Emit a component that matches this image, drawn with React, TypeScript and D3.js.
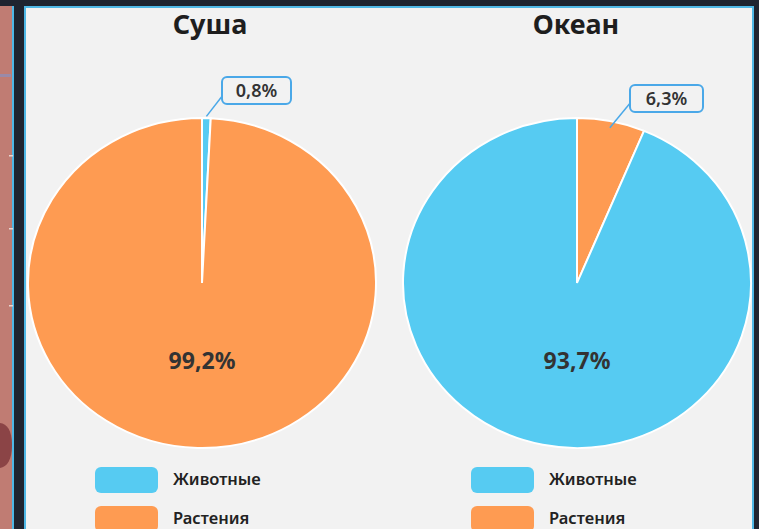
import React from "react";
import * as d3 from "d3";

const titles = ["Суша", "Океан"];
const landCategories = ["Животные", "Растения"];
const landValues = [0.8, 99.2];
const oceanCategories = ["Растения", "Животные"];
const oceanValues = [6.3, 93.7];
const legendCategories = ["Животные", "Растения"];
const bigLabels = ["99,2%", "93,7%"];
const smallLabels = ["0,8%", "6,3%"];

const colorOf: Record<string, string> = { "Животные": "#56cbf2", "Растения": "#fe9b52" };

const W = 759, H = 529;
const R = 174, RY = 165;
const FONT = "'Noto Sans', 'Open Sans', sans-serif";

type PieSpec = {
  cx: number; cy: number; title: string; titleX: number;
  cats: string[]; vals: number[]; big: string; small: string;
  lineK: number; lineEnd: [number, number]; boxW: number; boxTop: number; legendX: number;
};

const charts: PieSpec[] = [
  { cx: 202, cy: 283, title: titles[0], titleX: 210, cats: landCategories, vals: landValues,
    big: bigLabels[0], small: smallLabels[0], lineK: 1.01, lineEnd: [223, 95], boxW: 69, boxTop: 77, legendX: 95 },
  { cx: 577, cy: 283, title: titles[1], titleX: 576, cats: oceanCategories, vals: oceanValues,
    big: bigLabels[1], small: smallLabels[1], lineK: 0.96, lineEnd: [631, 102], boxW: 73, boxTop: 85, legendX: 471 },
];

function Pie({ s }: { s: PieSpec }) {
  const data = s.cats.map((c, i) => ({ c, v: s.vals[i] }));
  const arcs = d3.pie<{ c: string; v: number }>().sort(null).value(d => d.v).startAngle(0)(data);
  const arcGen = d3.arc<d3.PieArcDatum<{ c: string; v: number }>>().innerRadius(0).outerRadius(R);
  const smallArc = arcs.reduce((a, b) => (a.value < b.value ? a : b));
  const mid = (smallArc.startAngle + smallArc.endAngle) / 2;
  const sx = s.cx + Math.sin(mid) * R * s.lineK;
  const sy = s.cy - Math.cos(mid) * RY * s.lineK;
  const sy2 = s.cy + 77;
  return (
    <g>
      <text x={s.titleX} y={34} textAnchor="middle" fontFamily={FONT} fontWeight={700} fontSize={27} fill="#1e1e1e">{s.title}</text>
      <g transform={`translate(${s.cx},${s.cy}) scale(1,${RY / R})`}>
        {arcs.map((a, i) => (
          <path key={i} d={arcGen(a) || ""} fill={colorOf[a.data.c]} stroke="#ffffff" strokeWidth={2} />
        ))}
      </g>
      <text x={s.cx} y={sy2 + 9} textAnchor="middle" fontFamily={FONT} fontWeight={700} fontSize={23} fill="#333333">{s.big}</text>
      <line x1={sx} y1={sy} x2={s.lineEnd[0]} y2={s.lineEnd[1]} stroke="#4aa8e8" strokeWidth={1.5} />
      <rect x={s.lineEnd[0] - 1} y={s.boxTop} width={s.boxW} height={27} rx={5} fill="#f2f2f2" stroke="#4aa8e8" strokeWidth={2} />
      <text x={s.lineEnd[0] - 1 + s.boxW / 2} y={s.boxTop + 20} textAnchor="middle" fontFamily={FONT} fontWeight={600} fontSize={18} fill="#333333">{s.small}</text>
      {legendCategories.map((c, i) => (
        <g key={c} transform={`translate(${s.legendX},${467 + i * 39})`}>
          <rect x={0} y={0} width={63} height={26} rx={6} fill={colorOf[c]} />
          <text x={78} y={18} fontFamily={FONT} fontWeight={600} fontSize={16.5} fill="#222222">{c}</text>
        </g>
      ))}
    </g>
  );
}

export default function App() {
  return (
    <svg width={W} height={H} style={{ position: "absolute", left: 0, top: 0 }}>
      <rect x={0} y={0} width={W} height={H} fill="#1f2430" />
      {/* left strip */}
      <rect x={0} y={6} width={12} height={H} fill="#c07c73" />
      <rect x={12} y={6} width={2} height={H} fill="#4fb8e6" />
      <rect x={0} y={74} width={11} height={3} fill="#9a8aa8" />
      {[155, 228, 305].map(y => <rect key={y} x={9} y={y} width={4} height={1.5} fill="#e8d6d2" />)}
      <path d="M0,423 C7,424 12,430 12,445 C12,460 7,467 0,468 Z" fill="#8b4446" />
      {/* panel */}
      <rect x={25} y={7} width={728} height={H} fill="#f2f2f2" stroke="#4fb8e6" strokeWidth={2} />
      {charts.map((s, i) => <Pie key={i} s={s} />)}
    </svg>
  );
}
